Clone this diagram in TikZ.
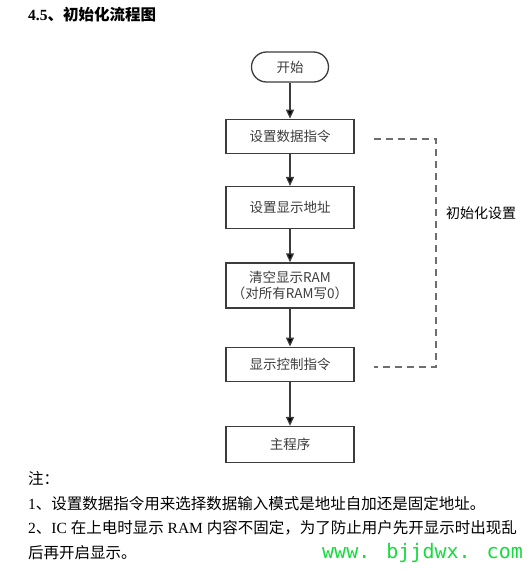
\documentclass[tikz,border=0pt]{standalone}
\usepackage{fontspec}
\setmainfont{Liberation Serif}
\newfontfamily\cjk{Noto Sans CJK SC}
\newfontfamily\wwwfont{DejaVu Sans Mono}
\usetikzlibrary{positioning,arrows.meta}
\definecolor{boxgray}{RGB}{60,60,60}
\definecolor{dashgray}{RGB}{110,110,110}
\definecolor{webgreen}{RGB}{20,220,60}
\newcommand\zh[1]{{\cjk #1}}

\begin{document}
\begin{tikzpicture}[
  x=1pt, y=-1pt,
  stepbox/.style={rectangle, draw=boxgray, line width=1.3pt, minimum width=128pt,
                  text=boxgray, align=center, inner sep=0pt,
                  font=\cjk\fontsize{13.5}{16}\selectfont},
  term/.style={rectangle, rounded corners=15pt, draw=boxgray, line width=1.3pt,
               minimum width=77pt, minimum height=30pt, text=boxgray,
               font=\cjk\fontsize{13.5}{16}\selectfont},
  arrow/.style={-{Triangle[length=9pt,width=8pt,fill=black]}, line width=1.3pt, color=boxgray},
  dashline/.style={draw=dashgray, line width=1.7pt, dash pattern=on 7pt off 5pt},
  note/.style={anchor=west, inner sep=0pt, font=\fontsize{15.5}{18}\selectfont}
]
  \useasboundingbox (0,0) rectangle (529,573);
  \clip (0,0) rectangle (529,573);

  % title
  \node[anchor=west, inner sep=0pt, font=\bfseries\fontsize{15.5}{18}\selectfont] (title) at (28,15)
    {4.5{\cjk\bfseries 、初始化流程图}};

  % flow chart
  \node[term] (start) at (290,67) {开始};
  \node[stepbox, minimum height=34pt, below=36pt of start] (setdata) {设置数据指令};
  \node[stepbox, minimum height=42pt, below=32pt of setdata] (setaddr) {设置显示地址};
  \node[stepbox, minimum height=45pt, below=33pt of setaddr] (clearram) {清空显示RAM\\（对所有RAM写0）};
  \node[stepbox, minimum height=34pt, below=38pt of clearram] (dispctrl) {显示控制指令};
  \node[stepbox, minimum height=36pt, below=44pt of dispctrl] (mainprog) {主程序};

  \draw[arrow] (start) -- (setdata);
  \draw[arrow] (setdata) -- (setaddr);
  \draw[arrow] (setaddr) -- (clearram);
  \draw[arrow] (clearram) -- (dispctrl);
  \draw[arrow] (dispctrl) -- (mainprog);

  % init bracket
  \coordinate (dtop) at ([xshift=19pt,yshift=-3pt]setdata.east);
  \coordinate (dbot) at ([xshift=19pt,yshift=-3pt]dispctrl.east);
  \draw[dashline] (dtop) -- ++(62,0) |- (dbot);
  \node[anchor=west, inner sep=0pt, font=\cjk\fontsize{14}{16}\selectfont] (initlabel) at (446,213) {初始化设置};

  % notes
  \node[note] (notehead) at (28,478) {\zh{注：}};
  \node[note] (note1) at (28,504) {1\zh{、设置数据指令用来选择数据输入模式是地址自加还是固定地址。}};
  \node[note] (note2) at (28,528) {2\zh{、}IC \zh{在上电时显示} RAM \zh{内容不固定，为了防止用户先开显示时出现乱}};
  \node[note] (note3) at (28,553) {\zh{后再开启显示。}};
  \node[anchor=west, inner sep=0pt, text=webgreen, font=\wwwfont\fontsize{20}{22}\selectfont] (web) at (322,553) {www. bjjdwx. com};
\end{tikzpicture}
\end{document}
